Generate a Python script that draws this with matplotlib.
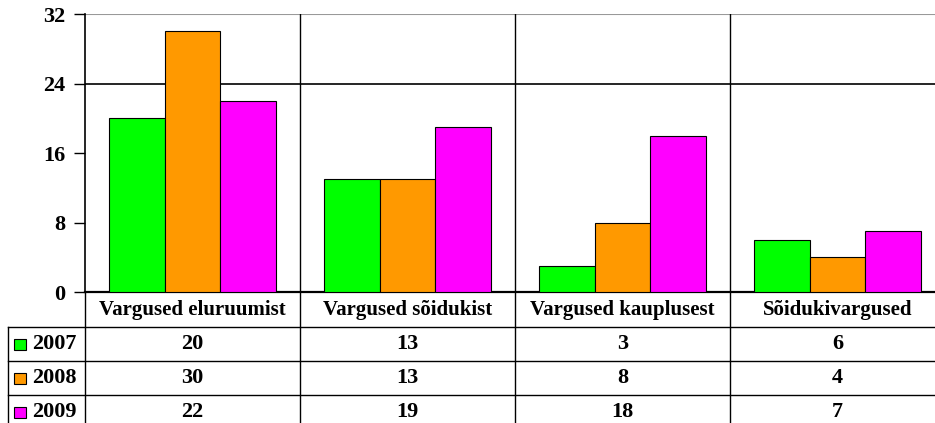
import matplotlib
matplotlib.use('Agg')
import matplotlib.pyplot as plt
from matplotlib.lines import Line2D
from matplotlib.patches import Rectangle
import numpy as np

# andmed
categories = ['Vargused eluruumist', 'Vargused sõidukist', 'Vargused kauplusest', 'Sõidukivargused']
years = ['2007', '2008', '2009']
v2007 = [20, 13, 3, 6]
v2008 = [30, 13, 8, 4]
v2009 = [22, 19, 18, 7]
colors = ['#00FF00', '#FF9900', '#FF00FF']
yticks = [0, 8, 16, 24, 32]

plt.rcParams['font.family'] = ['Liberation Serif', 'DejaVu Serif']
plt.rcParams['font.weight'] = 'bold'

W, H = 935, 423
fig = plt.figure(figsize=(W / 100, H / 100), dpi=100)

# pikslid -> figuuri koordinaadid
def fx(px):
    return px / W

def fy(py):
    return 1 - py / H

left, right, top, bottom = 85, 945, 14, 292
ax = fig.add_axes([fx(left), fy(bottom), fx(right) - fx(left), fy(top) - fy(bottom)])

series = [v2007, v2008, v2009]
x = np.arange(len(categories))
bw = 0.26
for i, vals in enumerate(series):
    ax.bar(x + (i - 1) * bw, vals, bw, color=colors[i], edgecolor='black', linewidth=0.8, zorder=3)

ax.set_xlim(-0.5, len(categories) - 0.5)
ax.set_ylim(0, 32)
ax.set_yticks(yticks)
ax.set_yticklabels([str(t) for t in yticks], fontsize=16, fontweight='bold')
ax.set_xticks([])
ax.tick_params(axis='y', length=8, width=1, pad=6)
ax.axhline(24, color='black', lw=1.2, zorder=1)
ax.axhline(32, color='#999999', lw=1.5, zorder=1)
for k in range(1, len(categories)):
    ax.axvline(k - 0.5, color='black', lw=1, zorder=2)
for s in ['top', 'right']:
    ax.spines[s].set_visible(False)
ax.spines['left'].set_linewidth(1.2)
ax.spines['bottom'].set_linewidth(1.6)

# andmetabel
cat_w = (right - left) / len(categories)
row_h = 34
header_bot = bottom + 35
for k in range(len(categories) + 1):
    xx = left + k * cat_w
    fig.add_artist(Line2D([fx(xx), fx(xx)], [fy(bottom), 0], color='black', lw=1))
fig.add_artist(Line2D([fx(8), fx(8)], [fy(header_bot), 0], color='black', lw=1))
for r in range(len(years)):
    yy = header_bot + r * row_h
    fig.add_artist(Line2D([fx(8), 1], [fy(yy), fy(yy)], color='black', lw=1))

for k, c in enumerate(categories):
    fig.text(fx(left + (k + 0.5) * cat_w), fy((bottom + header_bot) / 2), c,
             ha='center', va='center', fontsize=15, fontweight='bold')

for r, (yr, vals) in enumerate(zip(years, series)):
    cy = header_bot + (r + 0.5) * row_h
    fig.add_artist(Rectangle((fx(14), fy(cy + 6)), fx(12), fy(0) - fy(11),
                             facecolor=colors[r], edgecolor='black', lw=0.8))
    fig.text(fx(32), fy(cy), yr, ha='left', va='center', fontsize=16, fontweight='bold')
    for k, v in enumerate(vals):
        fig.text(fx(left + (k + 0.5) * cat_w), fy(cy), str(v),
                 ha='center', va='center', fontsize=16, fontweight='bold')

fig.savefig('out.png', dpi=100)
